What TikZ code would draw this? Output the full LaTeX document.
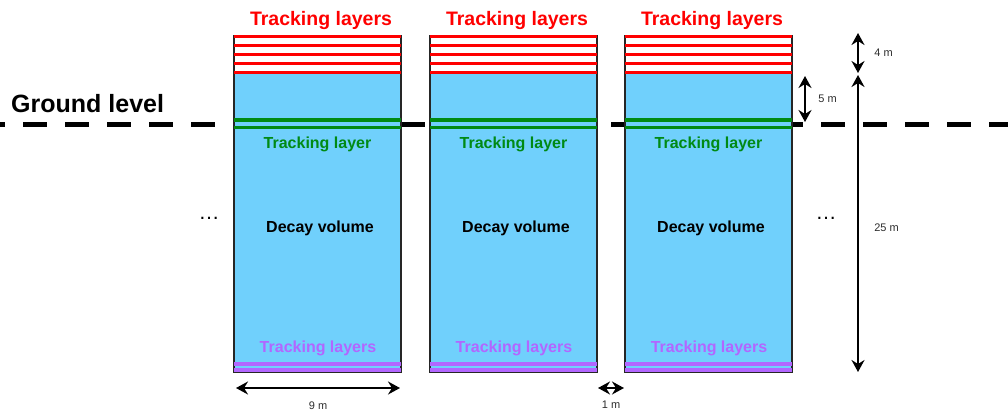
\documentclass[tikz,border=0pt]{standalone}
\usepackage{fontspec}
\setmainfont{Liberation Sans}
\usepackage{tikz}
\usetikzlibrary{arrows.meta}
\definecolor{volblue}{RGB}{112,208,252}
\definecolor{trkred}{RGB}{255,0,0}
\definecolor{trkgreen}{RGB}{0,138,20}
\definecolor{trkpurple}{RGB}{178,102,255}
\definecolor{dimgrey}{RGB}{45,45,45}
\newcommand\fsz[1]{\fontsize{#1}{#1}\selectfont}
\tikzstyle{boxline}=[line width=1.5pt,black!85]
\tikzstyle{redlayer}=[line width=3pt,trkred]
\tikzstyle{greenlayer}=[line width=3.5pt,trkgreen]
\tikzstyle{purplelayer}=[line width=4pt,trkpurple]
\tikzstyle{ground}=[line width=5pt,black,dash pattern=on 24pt off 18pt,dash phase=19pt]
\tikzstyle{txt}=[inner sep=0pt,anchor=base,font=\bfseries\fsz{16}]
\tikzstyle{dimhead}=[>/.tip={Stealth[length=12pt,width=13pt,inset=4pt]}]
\tikzstyle{dim}=[line width=2pt,black,dimhead,<->]
\tikzstyle{dimtxt}=[font=\fsz{11},text=dimgrey]

\begin{document}
\begin{tikzpicture}[x=1pt,y=-1pt]
	\useasboundingbox (0,0) rectangle (1008,410);
	\draw[ground] (0,124.5) -- (1008,124.5);
	\node[txt,anchor=base west,font=\bfseries\fsz{25}] (glevel) at (11,112) {Ground level};
	\foreach \l/\n in {234/a,430/b,625/c}{
		\fill[volblue] (\l,74) rectangle ++(167,298);
		\draw[boxline] (\l,36) rectangle ++(167,336);
		\foreach \y in {36,45.8,54.6,63.4,72.6}
			\draw[redlayer] (\l,\y) -- ++(167,0);
		\foreach \y in {120,127.5}
			\draw[greenlayer] (\l,\y) -- ++(167,0);
		\foreach \y in {364,369.8}
			\draw[purplelayer] (\l,\y) -- ++(167,0);
		\node[txt,trkred,font=\bfseries\fsz{19.5}] (top\n) at (\l+87,25) {Tracking layers};
		\node[txt,trkgreen] (mid\n) at (\l+83.5,148.3) {Tracking layer};
		\node[txt] (dv\n) at (\l+86,232.7) {Decay volume};
		\node[txt,trkpurple] (bot\n) at (\l+84,352.7) {Tracking layers};
	}
	\node[font=\fsz{21}] (dotsl) at (209,218.5) {…};
	\node[font=\fsz{21}] (dotsr) at (826,218.5) {…};
	% dimensions
	\coordinate (w0) at (236,388);
	\coordinate (w1) at (400,388);
	\coordinate (g0) at (598,388);
	\coordinate (g1) at (624,388);
	\coordinate (t0) at (858,33);
	\coordinate (t1) at (858,73);
	\coordinate (d0) at (858,75);
	\coordinate (d1) at (858,372);
	\coordinate (s0) at (805,76);
	\coordinate (s1) at (805,122);
	\draw[dim] (w0) -- node[dimtxt,below=9pt] (wl) {9 m} (w1);
	\draw[dim] (g0) -- node[dimtxt,below=9pt] (gl) {1 m} (g1);
	\draw[dim] (t0) -- node[dimtxt,right=12pt] (tl) {4 m} (t1);
	\draw[dim] (d0) -- node[dimtxt,right=12pt,pos=.515] (dl) {25 m} (d1);
	\draw[dim] (s0) -- node[dimtxt,right=9pt] (sl) {5 m} (s1);
\end{tikzpicture}
\end{document}
